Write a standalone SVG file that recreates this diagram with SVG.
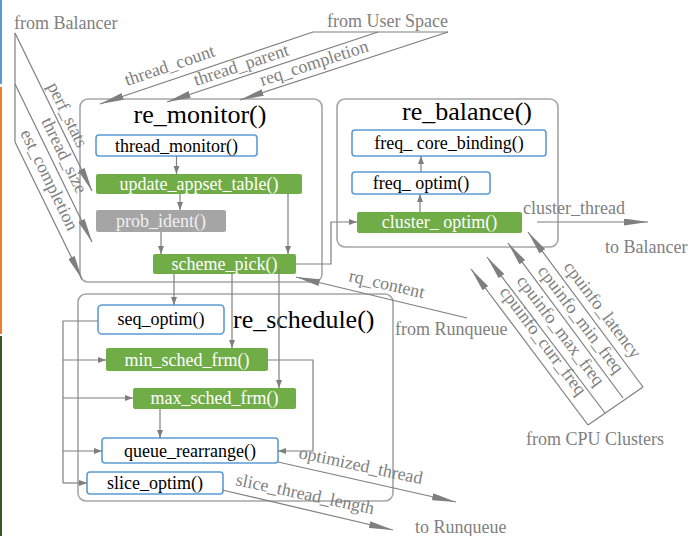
<svg xmlns="http://www.w3.org/2000/svg" width="700" height="536" viewBox="0 0 700 536">
<style>
.cont{fill:#fff;stroke:#a6a6a6;stroke-width:1.6}
.blue{fill:#fff;stroke:#5b9bd5;stroke-width:1.6}
.green{fill:#70ad47}
.grey{fill:#a5a5a5}
.t{font-family:"Liberation Serif",serif;font-size:18px;text-anchor:middle}
.tk{fill:#000}
.tw{fill:#fff}
.tg{fill:#f0f0f0}
.title{font-family:"Liberation Serif",serif;font-size:26px;fill:#000}
.lbl{font-family:"Liberation Serif",serif;font-size:18px;fill:#808080}
.ln{fill:none;stroke:#7f7f7f;stroke-width:1.2}
.ls{marker-end:url(#ah)}
.ll{marker-end:url(#al)}
</style>
<defs>
<marker id="ah" viewBox="0 0 8 6" refX="8" refY="3" markerWidth="8" markerHeight="6" markerUnits="userSpaceOnUse" orient="auto"><path d="M0,0L8,3L0,6z" fill="#7f7f7f"/></marker>
<marker id="al" viewBox="0 0 24 7" refX="24" refY="3.5" markerWidth="24" markerHeight="7" markerUnits="userSpaceOnUse" orient="auto"><path d="M0,0L24,3.5L0,7z" fill="#7f7f7f"/></marker>
</defs>
<rect width="700" height="536" fill="#fff"/>
<rect x="0" y="0" width="2" height="84" fill="#5b9bd5"/>
<rect x="0" y="87" width="2" height="247" fill="#ed7d31"/>
<rect x="0" y="336" width="2" height="200" fill="#385723"/>

<g id="re_monitor"><rect class="cont" x="80" y="99" width="242" height="183" rx="8"/><text class="title" x="200" y="123" text-anchor="middle">re_monitor()</text></g>
<g id="re_balance"><rect class="cont" x="337" y="99" width="221" height="148" rx="8"/><text class="title" x="467" y="120" text-anchor="middle">re_balance()</text></g>
<g id="re_schedule"><rect class="cont" x="78" y="294" width="315" height="207" rx="8"/><text class="title" x="233" y="328">re_schedule()</text></g>

<g id="thread_monitor"><rect class="blue" x="96" y="135" width="161" height="21" rx="3"/><text class="t tk" x="176.5" y="152">thread_monitor()</text></g>
<g id="update_appset_table"><rect class="green" x="96" y="174" width="206" height="20" rx="2"/><text class="t tw" x="199" y="190">update_appset_table()</text></g>
<g id="prob_ident"><rect class="grey" x="96" y="210" width="130" height="22" rx="2"/><text class="t tg" x="161" y="227">prob_ident()</text></g>
<g id="scheme_pick"><rect class="green" x="153" y="254" width="143" height="20" rx="2"/><text class="t tw" x="224.5" y="270">scheme_pick()</text></g>
<g id="seq_optim"><rect class="blue" x="98" y="305" width="126" height="29" rx="4"/><text class="t tk" x="161" y="325">seq_optim()</text></g>
<g id="min_sched_frm"><rect class="green" x="106" y="348" width="162" height="23" rx="2"/><text class="t tw" x="187" y="366">min_sched_frm()</text></g>
<g id="max_sched_frm"><rect class="green" x="133" y="388" width="163" height="21" rx="2"/><text class="t tw" x="214.5" y="404">max_sched_frm()</text></g>
<g id="queue_rearrange"><rect class="blue" x="102" y="438" width="176" height="25" rx="3"/><text class="t tk" x="190" y="457">queue_rearrange()</text></g>
<g id="slice_optim"><rect class="blue" x="87" y="472" width="136" height="22" rx="3"/><text class="t tk" x="155" y="489">slice_optim()</text></g>
<g id="freq_core_binding"><rect class="blue" x="352" y="130" width="194" height="26" rx="3"/><text class="t tk" x="449" y="149">freq_ core_binding()</text></g>
<g id="freq_optim"><rect class="blue" x="352" y="172" width="138" height="22" rx="3"/><text class="t tk" x="421" y="189">freq_ optim()</text></g>
<g id="cluster_optim"><rect class="green" x="357" y="212" width="165" height="21" rx="2"/><text class="t tw" x="439.5" y="228">cluster_ optim()</text></g>

<g id="connectors">
<path class="ln ls" d="M176.5,156V174"/>
<path class="ln ls" d="M180,194V210"/>
<path class="ln ls" d="M288,194V254"/>
<path class="ln ls" d="M161,232V254"/>
<path class="ln ls" d="M296,264H331V222H357"/>
<path class="ln ls" d="M174,274V305"/>
<path class="ln ls" d="M232,274V348"/>
<path class="ln ls" d="M279,268V388"/>
<path class="ln ls" d="M160,409V438"/>
<path class="ln ls" d="M268,360H313V451H278"/>
<path class="ln" d="M98,321H63V483"/>
<path class="ln ls" d="M63,360H106"/>
<path class="ln ls" d="M63,398H133"/>
<path class="ln ls" d="M63,451H102"/>
<path class="ln ls" d="M63,483H87"/>
<path class="ln ls" d="M421,172V156"/>
<path class="ln ls" d="M420,212V194"/>
<path class="ln ll" d="M537,222H648"/>
<path class="ln ll" d="M467,318L296,277"/>
<path class="ln ll" d="M278,462L456,502"/>
<path class="ln ll" d="M222,490L393,530"/>
<path class="ln" d="M15,33V142"/>
<path class="ln ll" d="M15,33L92,191"/>
<path class="ln ll" d="M15,84L92,242"/>
<path class="ln ll" d="M15,142L82,279"/>
<path class="ln" d="M313,32H448"/>
<path class="ln ll" d="M313,32L100,104"/>
<path class="ln ll" d="M378,32L167,102"/>
<path class="ln ll" d="M448,32L240,100"/>
<path class="ln" d="M588,425L643,387"/>
<path class="ln ll" d="M643,387L528,232"/>
<path class="ln ll" d="M623,398L508,243"/>
<path class="ln ll" d="M605,413L487,257"/>
<path class="ln ll" d="M588,425L471,269"/>
</g>

<g id="labels">
<text class="lbl" x="14" y="29">from Balancer</text>
<text class="lbl" x="327" y="27">from User Space</text>
<text class="lbl" x="605" y="253">to Balancer</text>
<text class="lbl" x="395" y="335">from Runqueue</text>
<text class="lbl" x="526" y="445">from CPU Clusters</text>
<text class="lbl" x="415" y="533">to Runqueue</text>
<text class="lbl" x="523" y="214">cluster_thread</text>
<text class="lbl" x="47" y="86" transform="rotate(64 47 86)">perf_stats</text>
<text class="lbl" x="41" y="121" transform="rotate(64 41 121)">thread_size</text>
<text class="lbl" x="20" y="133" transform="rotate(64 20 133)">est_completion</text>
<text class="lbl" x="127" y="86" transform="rotate(-18.7 127 86)">thread_count</text>
<text class="lbl" x="196" y="86" transform="rotate(-18.3 196 86)">thread_parent</text>
<text class="lbl" x="262" y="86" transform="rotate(-18 262 86)">req_completion</text>
<text class="lbl" x="563" y="267" transform="rotate(53 563 267)">cpuinfo_latency</text>
<text class="lbl" x="537" y="271" transform="rotate(53 537 271)">cpuinfo_min_freq</text>
<text class="lbl" x="516" y="281" transform="rotate(53 516 281)">cpuinfo_max_freq</text>
<text class="lbl" x="499" y="292" transform="rotate(53 499 292)">cpuinfo_curr_freq</text>
<text class="lbl" x="348" y="281" transform="rotate(13 348 281)">rq_content</text>
<text class="lbl" x="298" y="458" transform="rotate(12 298 458)">optimized_thread</text>
<text class="lbl" x="235" y="485" transform="rotate(12 235 485)">slice_thread_length</text>
</g>
</svg>
